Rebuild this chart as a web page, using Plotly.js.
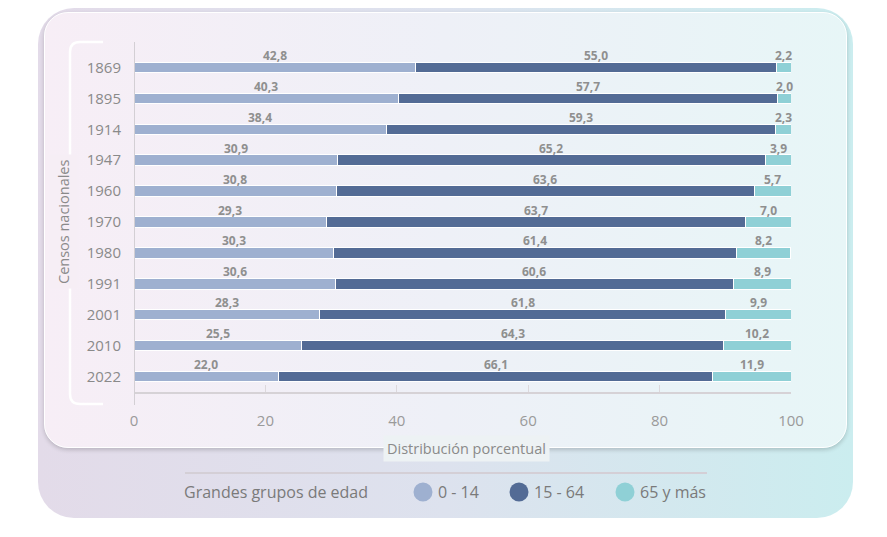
<!DOCTYPE html>
<html>
<head>
<meta charset="utf-8">
<script src="https://cdn.plot.ly/plotly-3.0.1.min.js"></script>
<style>
  body { margin: 0; background: #fff; }
  #wrap { position: relative; width: 887px; height: 537px; overflow: hidden; }
  #outer {
    position: absolute; left: 38px; top: 8px; width: 815px; height: 510px;
    border-radius: 36px;
    background: linear-gradient(90deg, #e3dbe9 0%, #dde2ee 50%, #cbedef 100%);
  }
  #card {
    position: absolute; left: 44px; top: 12px; width: 801px; height: 434px;
    border-radius: 24px; border: 1px solid #fff;
    background: linear-gradient(90deg, #f7eef6 0%, #eef0f7 50%, #e7f6f7 100%);
    box-shadow: 0 2px 4px rgba(0,0,0,0.18);
  }
  #grafico { position: absolute; left: 0; top: 0; width: 887px; height: 537px; }
</style>
</head>
<body>
<div id="wrap">
  <div id="outer"></div>
  <div id="card"></div>
  <div id="grafico"></div>
</div>
<script>
var censos = ['1869', '1895', '1914', '1947', '1960', '1970', '1980', '1991', '2001', '2010', '2022'];
var edad0a14 = [42.8, 40.3, 38.4, 30.9, 30.8, 29.3, 30.3, 30.6, 28.3, 25.5, 22.0];
var edad15a64 = [55.0, 57.7, 59.3, 65.2, 63.6, 63.7, 61.4, 60.6, 61.8, 64.3, 66.1];
var edad65 = [2.2, 2.0, 2.3, 3.9, 5.7, 7.0, 8.2, 8.9, 9.9, 10.2, 11.9];
var grupos = ['0 - 14', '15 - 64', '65 y más'];
var colores = ['#9eb0d0', '#536b95', '#8fd0d6'];
var ticksX = [0, 20, 40, 60, 80, 100];

// area del grafico en pixeles
var izq = 134, der = 96, arriba = 52, abajo = 145;
var ancho = 887 - izq - der, alto = 537 - arriba - abajo;
function px(x) { return (x - izq) / ancho; }
function py(y) { return (537 - abajo - y) / alto; }

var fuente = 'Open Sans';
var series = [edad0a14, edad15a64, edad65];
var data = [];
for (var s = 0; s < series.length; s++) {
  data.push({
    type: 'bar',
    orientation: 'h',
    x: series[s],
    y: censos,
    name: grupos[s],
    width: 0.34,
    marker: { color: colores[s], line: { color: '#ffffff', width: 1 } },
    showlegend: false
  });
}

// etiquetas centradas sobre cada segmento (y = indice de categoria)
var annotations = [];
for (var i = 0; i < censos.length; i++) {
  var acum = 0;
  for (var s = 0; s < series.length; s++) {
    var v = series[s][i];
    annotations.push({
      x: acum + v / 2,
      y: i,
      xref: 'x', yref: 'y',
      text: v.toFixed(1).replace('.', ','),
      showarrow: false,
      xanchor: 'center',
      yanchor: 'bottom',
      yshift: 1.5,
      font: { family: fuente, size: 12, color: '#8f8f8f', weight: 'bold' }
    });
    acum += v;
  }
}
annotations.push({
  x: px(466), y: py(448), xref: 'paper', yref: 'paper',
  xanchor: 'center', yanchor: 'middle',
  text: 'Distribución porcentual', showarrow: false,
  bgcolor: '#edf2f4', borderpad: 3,
  font: { family: fuente, size: 14.5, color: '#8a8a8a' }
});
annotations.push({
  x: px(63), y: 0.5, xref: 'paper', yref: 'paper',
  xanchor: 'center', yanchor: 'middle',
  text: 'Censos nacionales', showarrow: false, textangle: -90,
  bgcolor: '#f6eef5', borderpad: 4,
  font: { family: fuente, size: 14.5, color: '#8a8a8a' }
});

// leyenda dibujada a mano (circulos grandes)
var legendaX = [423, 519, 625];
var legendaY = 492;
annotations.push({
  x: px(182), y: py(legendaY), xref: 'paper', yref: 'paper',
  xanchor: 'left', yanchor: 'middle', showarrow: false,
  text: 'Grandes grupos de edad',
  font: { family: fuente, size: 16, color: '#7a7a7a' }
});

var shapes = [];
for (var s = 0; s < grupos.length; s++) {
  annotations.push({
    x: px(legendaX[s] + 13), y: py(legendaY), xref: 'paper', yref: 'paper',
    xanchor: 'left', yanchor: 'middle', showarrow: false,
    text: grupos[s],
    font: { family: fuente, size: 16, color: '#7a7a7a' }
  });
  shapes.push({
    type: 'circle', xref: 'paper', yref: 'paper',
    xsizemode: 'pixel', ysizemode: 'pixel',
    xanchor: px(legendaX[s]), yanchor: py(legendaY),
    x0: -9.5, x1: 9.5, y0: -9.5, y1: 9.5,
    fillcolor: colores[s], line: { width: 0 }
  });
}

var r = 10;
var corchete = 'M ' + px(103) + ',' + py(42) +
  ' L ' + px(70 + r) + ',' + py(42) +
  ' Q ' + px(70) + ',' + py(42) + ' ' + px(70) + ',' + py(42 + r) +
  ' L ' + px(70) + ',' + py(404 - r) +
  ' Q ' + px(70) + ',' + py(404) + ' ' + px(70 + r) + ',' + py(404) +
  ' L ' + px(103) + ',' + py(404);

shapes.push(
  { type: 'path', xref: 'paper', yref: 'paper', path: corchete,
    line: { color: '#ffffff', width: 2.5 }, layer: 'below' },
  { type: 'line', xref: 'x', yref: 'paper', x0: 0, x1: 0, y0: py(405), y1: py(42),
    line: { color: '#d3cfd4', width: 2 } },
  { type: 'line', xref: 'paper', yref: 'paper', x0: px(185), x1: px(707), y0: py(473), y1: py(473),
    line: { color: '#d4cfd6', width: 2 } }
);

var layout = {
  width: 887,
  height: 537,
  margin: { l: izq, r: der, t: arriba, b: abajo },
  paper_bgcolor: 'rgba(0,0,0,0)',
  plot_bgcolor: 'rgba(0,0,0,0)',
  barmode: 'stack',
  showlegend: false,
  font: { family: fuente, color: '#8a8a8a' },
  xaxis: {
    range: [0, 100],
    tickvals: ticksX,
    ticks: 'inside',
    ticklen: 7,
    tickcolor: '#dcd8dc',
    showgrid: false,
    zeroline: false,
    showline: true,
    linecolor: '#d6d2d6',
    linewidth: 2,
    ticklabelstandoff: 14,
    tickfont: { family: fuente, size: 15, color: '#9a9a9a' },
    fixedrange: true
  },
  yaxis: {
    type: 'category',
    categoryorder: 'array',
    categoryarray: censos,
    range: [censos.length - 0.5, -0.5],
    showgrid: false,
    zeroline: false,
    showline: false,
    ticks: '',
    ticklabelstandoff: 12,
    tickfont: { family: fuente, size: 15, color: '#8a8a8a' },
    fixedrange: true
  },
  annotations: annotations,
  shapes: shapes
};

Plotly.newPlot('grafico', data, layout, { displayModeBar: false, staticPlot: true });
</script>
</body>
</html>
